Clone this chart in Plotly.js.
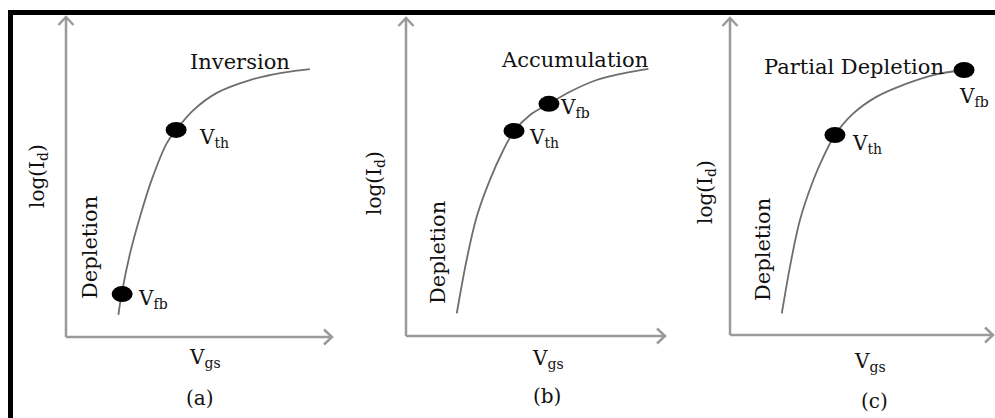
<!DOCTYPE html>
<html>
<head>
<meta charset="utf-8">
<script src="https://cdn.plot.ly/plotly-3.0.1.min.js"></script>
<style>html,body{margin:0;padding:0;background:#fff;}#chart{width:995px;height:418px;}</style>
</head>
<body>
<div id="chart"></div>
<script>
// ---- data (arbitrary units, 0..10 on each axis) ----
const curveA_x = [1.97, 2.09, 2.41, 2.78, 3.22, 3.79, 4.14, 4.79, 5.67, 6.92, 8.17, 9.17];
const curveA_y = [0.69, 1.34, 2.62, 3.75, 4.91, 6.06, 6.47, 7.09, 7.63, 8.03, 8.26, 8.37];
const curveB_x = [1.96, 2.34, 2.73, 3.24, 3.76, 4.18, 4.79, 5.52, 6.33, 7.36, 8.39, 9.36];
const curveB_y = [0.71, 2.39, 3.75, 4.91, 5.85, 6.45, 6.95, 7.30, 7.68, 8.05, 8.26, 8.40];
const curveC_x = [1.97, 2.28, 2.66, 3.17, 3.55, 3.99, 4.69, 5.58, 6.59, 7.73, 8.90];
const curveC_y = [0.68, 2.15, 3.63, 4.89, 5.62, 6.31, 6.99, 7.52, 7.89, 8.20, 8.36];

const pointsA_x = [2.11, 4.14];
const pointsA_y = [1.34, 6.47];
const pointsB_x = [4.17, 5.52];
const pointsB_y = [6.45, 7.30];
const pointsC_x = [3.99, 8.90];
const pointsC_y = [6.31, 8.36];

const axisRange = [0, 10];

const panelLetters = ['(a)', '(b)', '(c)'];
const regionLabels = ['Inversion', 'Accumulation', 'Partial Depletion'];
const xTitle = 'V<sub>gs</sub>';
const yTitle = 'log(I<sub>d</sub>)';
const lowLabel = 'Depletion';
const vfb = 'V<sub>fb</sub>';
const vth = 'V<sub>th</sub>';

// ---- layout helpers ----
const W = 995, H = 418;
const FONT = 'DejaVu Serif';
const axisColor = '#9a9a9a';
function px(x, y, extra, size) {
  return Object.assign({x: x / W, y: 1 - y / H, xref: 'paper', yref: 'paper', showarrow: false,
    xanchor: 'center', yanchor: 'middle',
    font: {family: FONT, size: size || 20, color: '#111'}}, extra || {});
}
function dom(a, b) { return [a / W, b / W]; }
function domY(top, bottom) { return [1 - bottom / H, 1 - top / H]; }

const panels = [
  {xd: dom(66, 332), yd: domY(17, 337)},
  {xd: dom(406, 665), yd: domY(18, 336)},
  {xd: dom(730, 993), yd: domY(18, 335)}
];

const curves = [[curveA_x, curveA_y, 'x', 'y'], [curveB_x, curveB_y, 'x2', 'y2'], [curveC_x, curveC_y, 'x3', 'y3']];
const traces = curves.map(c => ({
  x: c[0], y: c[1], xaxis: c[2], yaxis: c[3], type: 'scatter', mode: 'lines',
  line: {color: '#6e6e6e', width: 1.8, shape: 'spline', smoothing: 1}, hoverinfo: 'skip', cliponaxis: false
}));

const shapes = [
  // frame (left + top only)
  {type: 'line', xref: 'paper', yref: 'paper', x0: 10.5 / W, x1: 10.5 / W, y0: 0, y1: 1 - 10 / H, line: {color: '#000', width: 5}},
  {type: 'line', xref: 'paper', yref: 'paper', x0: 8 / W, x1: 1, y0: 1 - 12.5 / H, y1: 1 - 12.5 / H, line: {color: '#000', width: 5}}
];
// axes with arrow heads (paper refs, so nothing is clipped)
panels.forEach(p => {
  const ln = {color: axisColor, width: 2.5};
  const x0 = p.xd[0], x1 = p.xd[1], y0 = p.yd[0], y1 = p.yd[1];
  shapes.push({type: 'line', xref: 'paper', yref: 'paper', x0: x0, y0: y0, x1: x0, y1: y1, line: ln});
  shapes.push({type: 'line', xref: 'paper', yref: 'paper', x0: x0, y0: y0, x1: x1, y1: y0, line: ln});
  shapes.push({type: 'path', xref: 'paper', yref: 'paper', xsizemode: 'pixel', ysizemode: 'pixel',
    xanchor: x0, yanchor: y1, path: 'M-7.5,-8 L0,0 L7.5,-8', line: ln});
  shapes.push({type: 'path', xref: 'paper', yref: 'paper', xsizemode: 'pixel', ysizemode: 'pixel',
    xanchor: x1, yanchor: y0, path: 'M-8,7.5 L0,0 L-8,-7.5', line: ln});
});
const pts = [[pointsA_x, pointsA_y, 'x', 'y'], [pointsB_x, pointsB_y, 'x2', 'y2'], [pointsC_x, pointsC_y, 'x3', 'y3']];
pts.forEach(p => {
  p[0].forEach((xv, i) => {
    shapes.push({type: 'circle', xref: p[2], yref: p[3], xsizemode: 'pixel', ysizemode: 'pixel',
      xanchor: xv, yanchor: p[1][i], x0: -10.5, x1: 10.5, y0: -8, y1: 8,
      fillcolor: '#000', line: {width: 0}});
  });
});

const annotations = [];
// panel (a)
annotations.push(px(240, 62, {text: regionLabels[0]}, 21));
annotations.push(px(197, 138, {text: vth, xanchor: 'left'}));
annotations.push(px(136, 299, {text: vfb, xanchor: 'left'}));
annotations.push(px(90, 248, {text: lowLabel, textangle: -90}, 21));
annotations.push(px(38, 176, {text: yTitle, textangle: -90}));
annotations.push(px(187, 358, {text: xTitle, xanchor: 'left'}));
annotations.push(px(200, 398, {text: panelLetters[0]}));
// panel (b)
annotations.push(px(574, 60, {text: regionLabels[1]}, 21));
annotations.push(px(558, 108, {text: vfb, xanchor: 'left'}));
annotations.push(px(527, 138, {text: vth, xanchor: 'left'}));
annotations.push(px(438, 253, {text: lowLabel, textangle: -90}, 21));
annotations.push(px(375, 183, {text: yTitle, textangle: -90}));
annotations.push(px(530, 359, {text: xTitle, xanchor: 'left'}));
annotations.push(px(547, 396, {text: panelLetters[1]}));
// panel (c)
annotations.push(px(854, 67, {text: regionLabels[2]}, 21));
annotations.push(px(850, 144, {text: vth, xanchor: 'left'}));
annotations.push(px(957, 97, {text: vfb, xanchor: 'left'}));
annotations.push(px(763, 250, {text: lowLabel, textangle: -90}, 21));
annotations.push(px(706, 192, {text: yTitle, textangle: -90}));
annotations.push(px(852, 362, {text: xTitle, xanchor: 'left'}));
annotations.push(px(874, 401, {text: panelLetters[2]}));

const hidden = {range: axisRange, showgrid: false, zeroline: false, showticklabels: false, showline: false, ticks: '', fixedrange: true};
const layout = {
  width: W, height: H, margin: {l: 0, r: 0, t: 0, b: 0},
  paper_bgcolor: '#fff', plot_bgcolor: 'rgba(0,0,0,0)', showlegend: false,
  xaxis: Object.assign({}, hidden, {domain: panels[0].xd, anchor: 'y'}),
  yaxis: Object.assign({}, hidden, {domain: panels[0].yd, anchor: 'x'}),
  xaxis2: Object.assign({}, hidden, {domain: panels[1].xd, anchor: 'y2'}),
  yaxis2: Object.assign({}, hidden, {domain: panels[1].yd, anchor: 'x2'}),
  xaxis3: Object.assign({}, hidden, {domain: panels[2].xd, anchor: 'y3'}),
  yaxis3: Object.assign({}, hidden, {domain: panels[2].yd, anchor: 'x3'}),
  shapes: shapes, annotations: annotations
};
Plotly.newPlot('chart', traces, layout, {staticPlot: true, displayModeBar: false});
</script>
</body>
</html>
